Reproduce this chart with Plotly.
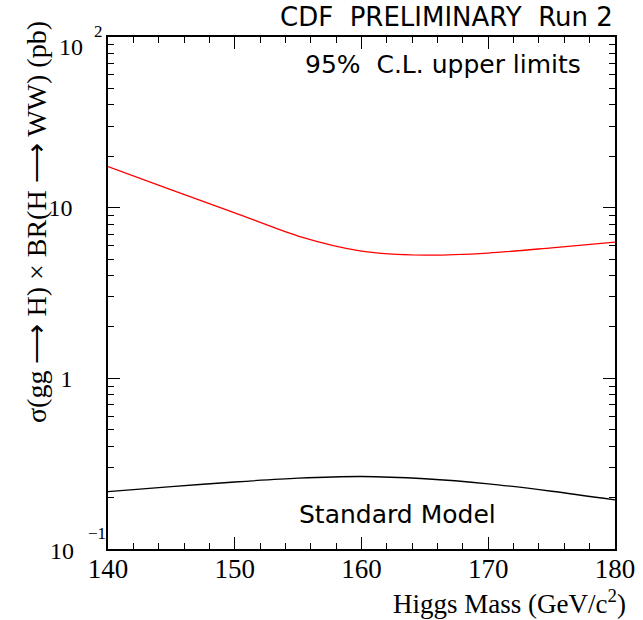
import plotly.graph_objects as go

# Data
mass = [140, 145, 150, 155, 160, 165, 170, 175, 180]
limit_95 = [17.4, 12.7, 9.33, 6.82, 5.57, 5.27, 5.42, 5.82, 6.29]
sm_xsec = [0.217, 0.232, 0.247, 0.260, 0.266, 0.258, 0.241, 0.218, 0.194]

y_tickvals = [1, 10]
y_ticktext = ["1", "10"]
x_tickvals = [140, 150, 160, 170, 180]

L, R, T, B = 108, 28, 37, 71
W, H = 643, 620
PW, PH = W - L - R, H - T - B


def px(xp):
    return (xp - L) / PW


def py(yp):
    return (H - B - yp) / PH


fig = go.Figure()
fig.add_trace(go.Scatter(x=mass, y=limit_95, mode="lines",
                         line=dict(color="#ff0000", width=1.3, shape="spline", smoothing=0.8),
                         showlegend=False))
fig.add_trace(go.Scatter(x=mass, y=sm_xsec, mode="lines",
                         line=dict(color="#000000", width=1.3, shape="spline", smoothing=0.8),
                         showlegend=False))

serif = "Liberation Serif, Times New Roman, serif"
sans = "DejaVu Sans, sans-serif"

fig.update_layout(
    width=W, height=H,
    margin=dict(l=L, r=R, t=T, b=B, autoexpand=False),
    paper_bgcolor="white", plot_bgcolor="white",
    xaxis=dict(range=[140, 180], tickvals=x_tickvals, automargin=False,
               ticks="inside", ticklen=12, tickwidth=1, tickcolor="black",
               minor=dict(dtick=2, ticks="inside", ticklen=6, tickcolor="black"),
               showline=True, linecolor="black", linewidth=1.5, mirror="allticks",
               showgrid=False, zeroline=False, ticklabelstandoff=-5,
               tickfont=dict(family=serif, size=27, color="black")),
    yaxis=dict(type="log", range=[-1, 2], tickvals=y_tickvals, ticktext=y_ticktext,
               automargin=False,
               ticks="inside", ticklen=12, tickwidth=1, tickcolor="black",
               minor=dict(dtick="D1", ticks="inside", ticklen=6, tickcolor="black"),
               showline=True, linecolor="black", linewidth=1.5, mirror="allticks",
               showgrid=False, zeroline=False, ticklabelstandoff=29,
               tickfont=dict(family=serif, size=24, color="black")),
)


def note(text, xp, yp, size, family, xanchor="center", angle=0):
    return dict(text=text, x=px(xp), y=py(yp), xref="paper", yref="paper",
                xanchor=xanchor, yanchor="middle", textangle=angle, showarrow=False,
                font=dict(family=family, size=size, color="black"))


ann = [
    # ROOT-style power labels on the y axis
    note("10", 71, 47, 24, serif),
    note("2", 98, 31, 17, serif),
    note("10", 62, 551, 24, serif),
    note("−1", 97, 533, 17, serif),
    # Header texts
    note("CDF  PRELIMINARY  Run 2", 615, 17, 26, sans, xanchor="right"),
    note("95%  C.L. upper limits", 583, 64, 25, sans, xanchor="right"),
    note("Standard Model", 397, 514, 25, sans),
    # Axis titles
    note("Higgs Mass (GeV/c<sup>2</sup>)", 628, 602, 27, serif, xanchor="right"),
    note("σ(gg ⟶ H) × BR(H ⟶ WW) (pb)", 36, 222, 28, serif, angle=-90),
]
fig.update_layout(annotations=ann)

fig.write_html("out.html")
